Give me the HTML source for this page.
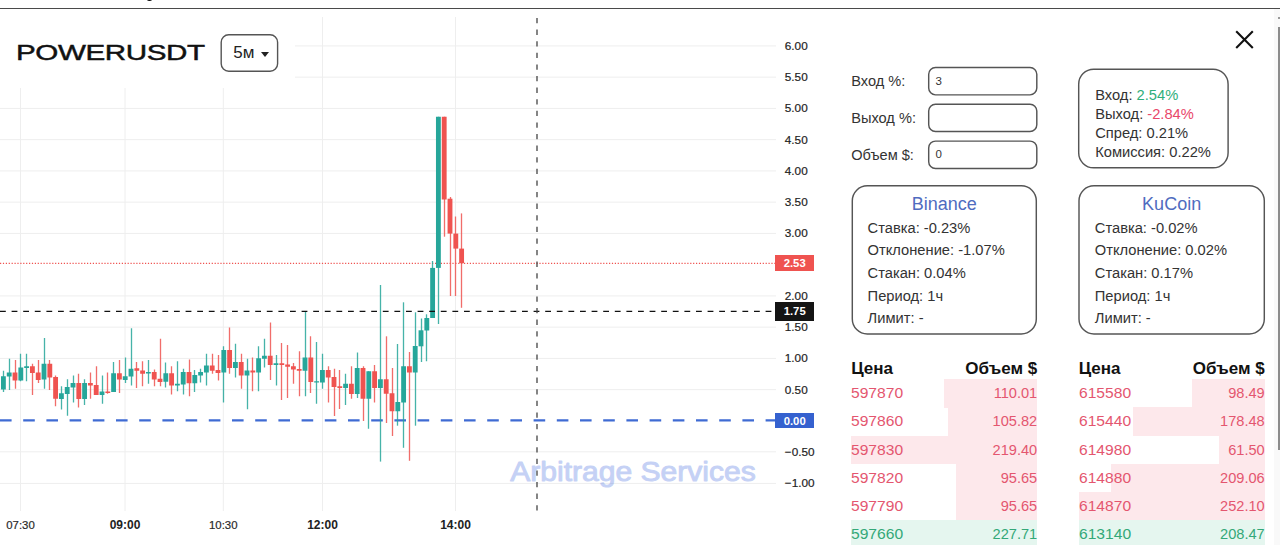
<!DOCTYPE html>
<html><head><meta charset="utf-8">
<style>
html,body{margin:0;padding:0;}
body{width:1280px;height:545px;overflow:hidden;background:#fff;position:relative;font-family:"Liberation Sans",sans-serif;color:#333;}
.abs{position:absolute;}
#topline{position:absolute;left:0;top:7.5px;width:1280px;height:1.3px;background:#4a4a4a;}
#chart{position:absolute;left:0;top:0;}
#hdr{position:absolute;left:0;top:17px;width:295px;height:71px;background:#fff;}
#sym{position:absolute;left:16.2px;top:38.4px;font-size:22px;line-height:30px;color:#111;white-space:nowrap;transform-origin:0 50%;transform:scaleX(1.345);letter-spacing:-0.3px;-webkit-text-stroke:0.45px #111;}
#tf{position:absolute;left:220px;top:33px;width:60px;height:40px;}
#tf svg{position:absolute;left:0;top:0;}
#tf span{position:absolute;left:13.3px;top:10.2px;font-size:17px;line-height:20px;color:#222;}
#tf i{position:absolute;left:41.3px;top:18.7px;width:0;height:0;border-left:4.5px solid transparent;border-right:4.5px solid transparent;border-top:5px solid #222;}
.pl{position:absolute;left:784.8px;font-size:11.75px;line-height:14px;color:#1e1e1e;white-space:nowrap;-webkit-text-stroke:0.2px #1e1e1e;}
.tl{position:absolute;top:518px;width:60px;text-align:center;font-size:11.4px;line-height:14px;color:#2a2a2a;-webkit-text-stroke:0.2px #2a2a2a;}
.tl.b{font-weight:bold;color:#222;font-size:12px;-webkit-text-stroke:0;}
.tag{position:absolute;left:775.4px;width:38.6px;height:15.8px;color:#fff;font-size:11.3px;line-height:17.6px;font-weight:bold;text-align:center;}
.lbl{position:absolute;left:851.2px;font-size:14.6px;line-height:20px;color:#333;white-space:nowrap;}
.it{position:absolute;font-size:11.5px;line-height:13px;color:#333;}
.bx{position:absolute;}
.bx div{position:absolute;white-space:nowrap;font-size:14.7px;line-height:20px;color:#333;}
.bx .ttl{left:0;right:0;text-align:center;font-size:18px;color:#4f6cc0;}
.gr{color:#2fae7b;} .rd{color:#e8476a;}
.th{position:absolute;display:flex;justify-content:space-between;font-weight:bold;font-size:17px;line-height:22px;color:#111;white-space:nowrap;}
.tr{position:absolute;display:flex;justify-content:space-between;font-size:14.6px;line-height:28.6px;white-space:nowrap;}
.tr .p{display:inline-block;transform:scaleX(1.07);transform-origin:0 50%;}
.tr.r{color:#e4566f;} .tr.g{color:#33a878;}
.bar{position:absolute;height:28.3px;}
#close{position:absolute;left:1234px;top:29px;}
#sbt{position:absolute;left:1273.5px;top:9px;width:6.5px;height:536px;background:#f9f9f9;}
#sbh{position:absolute;left:1278px;top:27px;width:2px;height:423px;background:#8c8c8c;}
</style></head><body>
<svg id="chart" width="822" height="545" viewBox="0 0 822 545">
<line x1="0" y1="45.90" x2="776" y2="45.90" stroke="#eeeeee" stroke-width="1"/>
<line x1="0" y1="77.15" x2="776" y2="77.15" stroke="#eeeeee" stroke-width="1"/>
<line x1="0" y1="108.40" x2="776" y2="108.40" stroke="#eeeeee" stroke-width="1"/>
<line x1="0" y1="139.65" x2="776" y2="139.65" stroke="#eeeeee" stroke-width="1"/>
<line x1="0" y1="170.90" x2="776" y2="170.90" stroke="#eeeeee" stroke-width="1"/>
<line x1="0" y1="202.15" x2="776" y2="202.15" stroke="#eeeeee" stroke-width="1"/>
<line x1="0" y1="233.40" x2="776" y2="233.40" stroke="#eeeeee" stroke-width="1"/>
<line x1="0" y1="295.90" x2="776" y2="295.90" stroke="#eeeeee" stroke-width="1"/>
<line x1="0" y1="327.15" x2="776" y2="327.15" stroke="#eeeeee" stroke-width="1"/>
<line x1="0" y1="358.40" x2="776" y2="358.40" stroke="#eeeeee" stroke-width="1"/>
<line x1="0" y1="389.65" x2="776" y2="389.65" stroke="#eeeeee" stroke-width="1"/>
<line x1="0" y1="451.80" x2="776" y2="451.80" stroke="#eeeeee" stroke-width="1"/>
<line x1="0" y1="483.40" x2="776" y2="483.40" stroke="#eeeeee" stroke-width="1"/>
<line x1="20.5" y1="17" x2="20.5" y2="511" stroke="#eeeeee" stroke-width="1"/>
<line x1="125" y1="17" x2="125" y2="511" stroke="#eeeeee" stroke-width="1"/>
<line x1="223.3" y1="17" x2="223.3" y2="511" stroke="#eeeeee" stroke-width="1"/>
<line x1="322.5" y1="17" x2="322.5" y2="511" stroke="#eeeeee" stroke-width="1"/>
<line x1="455.5" y1="17" x2="455.5" y2="511" stroke="#eeeeee" stroke-width="1"/>
<text x="510.3" y="480.6" font-family="Liberation Sans, sans-serif" font-size="27" fill="rgb(65,105,225)" stroke="rgb(65,105,225)" stroke-width="0.95" stroke-linejoin="round" opacity="0.3" textLength="245.5" lengthAdjust="spacingAndGlyphs">Arbitrage Services</text>
<line x1="0" y1="420.45" x2="776" y2="420.45" stroke="#3f6bd3" stroke-width="2.2" stroke-dasharray="11.6 11.6"/>
<line x1="0" y1="263.3" x2="776" y2="263.3" stroke="#ef5350" stroke-width="1.25" stroke-dasharray="1.2 1.7"/>
<line x1="3.5" y1="370.75" x2="3.5" y2="392" stroke="#26a69a" stroke-width="1.3" stroke-opacity="0.85"/>
<rect x="0.98" y="376.25" width="4.85" height="13.25" fill="#26a69a"/>
<line x1="9.5" y1="358.75" x2="9.5" y2="390" stroke="#26a69a" stroke-width="1.3" stroke-opacity="0.85"/>
<rect x="6.78" y="372.5" width="4.85" height="4.00" fill="#26a69a"/>
<line x1="15.5" y1="360" x2="15.5" y2="388.75" stroke="#ef5350" stroke-width="1.3" stroke-opacity="0.85"/>
<rect x="12.57" y="372.5" width="4.85" height="8.00" fill="#ef5350"/>
<line x1="20.5" y1="353.75" x2="20.5" y2="381.25" stroke="#26a69a" stroke-width="1.3" stroke-opacity="0.85"/>
<rect x="18.38" y="367.5" width="4.85" height="13.00" fill="#26a69a"/>
<line x1="26.5" y1="353.75" x2="26.5" y2="381.25" stroke="#26a69a" stroke-width="1.3" stroke-opacity="0.85"/>
<rect x="24.18" y="366.25" width="4.85" height="1.75" fill="#26a69a"/>
<line x1="32.5" y1="363.75" x2="32.5" y2="395" stroke="#ef5350" stroke-width="1.3" stroke-opacity="0.85"/>
<rect x="29.97" y="366.25" width="4.85" height="6.75" fill="#ef5350"/>
<line x1="38.5" y1="360" x2="38.5" y2="383" stroke="#ef5350" stroke-width="1.3" stroke-opacity="0.85"/>
<rect x="35.78" y="372.5" width="4.85" height="7.50" fill="#ef5350"/>
<line x1="44.5" y1="338" x2="44.5" y2="388.75" stroke="#26a69a" stroke-width="1.3" stroke-opacity="0.85"/>
<rect x="41.58" y="363.75" width="4.85" height="15.75" fill="#26a69a"/>
<line x1="49.5" y1="360" x2="49.5" y2="390" stroke="#ef5350" stroke-width="1.3" stroke-opacity="0.85"/>
<rect x="47.38" y="363.75" width="4.85" height="13.75" fill="#ef5350"/>
<line x1="55.5" y1="375.5" x2="55.5" y2="406.25" stroke="#ef5350" stroke-width="1.3" stroke-opacity="0.85"/>
<rect x="53.17" y="377" width="4.85" height="21.75" fill="#ef5350"/>
<line x1="61.5" y1="386.25" x2="61.5" y2="409.5" stroke="#26a69a" stroke-width="1.3" stroke-opacity="0.85"/>
<rect x="58.98" y="393.25" width="4.85" height="5.75" fill="#26a69a"/>
<line x1="67.5" y1="379.25" x2="67.5" y2="415.75" stroke="#26a69a" stroke-width="1.3" stroke-opacity="0.85"/>
<rect x="64.78" y="387" width="4.85" height="7.00" fill="#26a69a"/>
<line x1="73.5" y1="375.5" x2="73.5" y2="402.5" stroke="#26a69a" stroke-width="1.3" stroke-opacity="0.85"/>
<rect x="70.58" y="383" width="4.85" height="4.50" fill="#26a69a"/>
<line x1="78.5" y1="373.75" x2="78.5" y2="407.5" stroke="#ef5350" stroke-width="1.3" stroke-opacity="0.85"/>
<rect x="76.38" y="383" width="4.85" height="16.00" fill="#ef5350"/>
<line x1="84.5" y1="379.25" x2="84.5" y2="405" stroke="#26a69a" stroke-width="1.3" stroke-opacity="0.85"/>
<rect x="82.17" y="383" width="4.85" height="16.00" fill="#26a69a"/>
<line x1="90.5" y1="372.5" x2="90.5" y2="398.75" stroke="#ef5350" stroke-width="1.3" stroke-opacity="0.85"/>
<rect x="87.97" y="383" width="4.85" height="2.50" fill="#ef5350"/>
<line x1="96.5" y1="366.25" x2="96.5" y2="395" stroke="#ef5350" stroke-width="1.3" stroke-opacity="0.85"/>
<rect x="93.77" y="385" width="4.85" height="10.00" fill="#ef5350"/>
<line x1="102.5" y1="375.5" x2="102.5" y2="403.75" stroke="#26a69a" stroke-width="1.3" stroke-opacity="0.85"/>
<rect x="99.58" y="391.5" width="4.85" height="3.50" fill="#26a69a"/>
<line x1="107.5" y1="372.5" x2="107.5" y2="393.75" stroke="#ef5350" stroke-width="1.3" stroke-opacity="0.85"/>
<rect x="105.38" y="391.5" width="4.85" height="1.50" fill="#ef5350"/>
<line x1="113.5" y1="362" x2="113.5" y2="392" stroke="#26a69a" stroke-width="1.3" stroke-opacity="0.85"/>
<rect x="111.17" y="373.25" width="4.85" height="18.75" fill="#26a69a"/>
<line x1="119.5" y1="360" x2="119.5" y2="393" stroke="#ef5350" stroke-width="1.3" stroke-opacity="0.85"/>
<rect x="116.97" y="373.25" width="4.85" height="6.25" fill="#ef5350"/>
<line x1="125.5" y1="357.5" x2="125.5" y2="383" stroke="#26a69a" stroke-width="1.3" stroke-opacity="0.85"/>
<rect x="122.77" y="376.25" width="4.85" height="3.75" fill="#26a69a"/>
<line x1="131.5" y1="328.25" x2="131.5" y2="385.5" stroke="#26a69a" stroke-width="1.3" stroke-opacity="0.85"/>
<rect x="128.57" y="368.75" width="4.85" height="7.75" fill="#26a69a"/>
<line x1="136.5" y1="362" x2="136.5" y2="388" stroke="#ef5350" stroke-width="1.3" stroke-opacity="0.85"/>
<rect x="134.38" y="368.25" width="4.85" height="2.50" fill="#ef5350"/>
<line x1="142.5" y1="361.25" x2="142.5" y2="386.25" stroke="#ef5350" stroke-width="1.3" stroke-opacity="0.85"/>
<rect x="140.17" y="370.5" width="4.85" height="3.25" fill="#ef5350"/>
<line x1="148.5" y1="360" x2="148.5" y2="383.75" stroke="#26a69a" stroke-width="1.3" stroke-opacity="0.85"/>
<rect x="145.97" y="372" width="4.85" height="1.50" fill="#26a69a"/>
<line x1="154.5" y1="369.5" x2="154.5" y2="386.25" stroke="#ef5350" stroke-width="1.3" stroke-opacity="0.85"/>
<rect x="151.78" y="372" width="4.85" height="7.50" fill="#ef5350"/>
<line x1="160.5" y1="338.75" x2="160.5" y2="386.25" stroke="#ef5350" stroke-width="1.3" stroke-opacity="0.85"/>
<rect x="157.57" y="378.75" width="4.85" height="3.25" fill="#ef5350"/>
<line x1="165.5" y1="362.5" x2="165.5" y2="387.5" stroke="#26a69a" stroke-width="1.3" stroke-opacity="0.85"/>
<rect x="163.38" y="373.25" width="4.85" height="8.50" fill="#26a69a"/>
<line x1="171.5" y1="366.25" x2="171.5" y2="394.5" stroke="#ef5350" stroke-width="1.3" stroke-opacity="0.85"/>
<rect x="169.17" y="373.25" width="4.85" height="12.25" fill="#ef5350"/>
<line x1="177.5" y1="361.25" x2="177.5" y2="391.25" stroke="#26a69a" stroke-width="1.3" stroke-opacity="0.85"/>
<rect x="174.97" y="383.75" width="4.85" height="1.75" fill="#26a69a"/>
<line x1="183.5" y1="368.75" x2="183.5" y2="394.5" stroke="#26a69a" stroke-width="1.3" stroke-opacity="0.85"/>
<rect x="180.78" y="372" width="4.85" height="12.50" fill="#26a69a"/>
<line x1="189.5" y1="359.5" x2="189.5" y2="396.25" stroke="#ef5350" stroke-width="1.3" stroke-opacity="0.85"/>
<rect x="186.57" y="372" width="4.85" height="11.25" fill="#ef5350"/>
<line x1="194.5" y1="370" x2="194.5" y2="392" stroke="#26a69a" stroke-width="1.3" stroke-opacity="0.85"/>
<rect x="192.38" y="375" width="4.85" height="8.25" fill="#26a69a"/>
<line x1="200.5" y1="368.75" x2="200.5" y2="382.5" stroke="#26a69a" stroke-width="1.3" stroke-opacity="0.85"/>
<rect x="198.17" y="372" width="4.85" height="3.50" fill="#26a69a"/>
<line x1="206.5" y1="353.75" x2="206.5" y2="385.5" stroke="#26a69a" stroke-width="1.3" stroke-opacity="0.85"/>
<rect x="203.97" y="365.5" width="4.85" height="7.00" fill="#26a69a"/>
<line x1="212.5" y1="353.75" x2="212.5" y2="373.75" stroke="#ef5350" stroke-width="1.3" stroke-opacity="0.85"/>
<rect x="209.78" y="365.5" width="4.85" height="5.25" fill="#ef5350"/>
<line x1="218.5" y1="355" x2="218.5" y2="380.5" stroke="#ef5350" stroke-width="1.3" stroke-opacity="0.85"/>
<rect x="215.57" y="370" width="4.85" height="3.00" fill="#ef5350"/>
<line x1="223.5" y1="346.25" x2="223.5" y2="402.5" stroke="#26a69a" stroke-width="1.3" stroke-opacity="0.85"/>
<rect x="221.38" y="350" width="4.85" height="22.50" fill="#26a69a"/>
<line x1="229.5" y1="327.5" x2="229.5" y2="373.75" stroke="#ef5350" stroke-width="1.3" stroke-opacity="0.85"/>
<rect x="227.17" y="350" width="4.85" height="18.00" fill="#ef5350"/>
<line x1="235.5" y1="343.75" x2="235.5" y2="377.5" stroke="#26a69a" stroke-width="1.3" stroke-opacity="0.85"/>
<rect x="232.97" y="362" width="4.85" height="6.00" fill="#26a69a"/>
<line x1="241.5" y1="353.75" x2="241.5" y2="388.75" stroke="#ef5350" stroke-width="1.3" stroke-opacity="0.85"/>
<rect x="238.78" y="362" width="4.85" height="13.50" fill="#ef5350"/>
<line x1="247.5" y1="358.75" x2="247.5" y2="409.25" stroke="#26a69a" stroke-width="1.3" stroke-opacity="0.85"/>
<rect x="244.57" y="370.5" width="4.85" height="5.00" fill="#26a69a"/>
<line x1="252.5" y1="357.5" x2="252.5" y2="391.25" stroke="#ef5350" stroke-width="1.3" stroke-opacity="0.85"/>
<rect x="250.38" y="370.5" width="4.85" height="2.00" fill="#ef5350"/>
<line x1="258.5" y1="346.25" x2="258.5" y2="391.25" stroke="#26a69a" stroke-width="1.3" stroke-opacity="0.85"/>
<rect x="256.17" y="358.25" width="4.85" height="14.25" fill="#26a69a"/>
<line x1="264.5" y1="338.75" x2="264.5" y2="367.5" stroke="#26a69a" stroke-width="1.3" stroke-opacity="0.85"/>
<rect x="261.97" y="355.75" width="4.85" height="3.00" fill="#26a69a"/>
<line x1="270.5" y1="322.5" x2="270.5" y2="380" stroke="#ef5350" stroke-width="1.3" stroke-opacity="0.85"/>
<rect x="267.77" y="355.75" width="4.85" height="9.25" fill="#ef5350"/>
<line x1="276.5" y1="355" x2="276.5" y2="385.5" stroke="#26a69a" stroke-width="1.3" stroke-opacity="0.85"/>
<rect x="273.57" y="363.25" width="4.85" height="1.75" fill="#26a69a"/>
<line x1="281.5" y1="343" x2="281.5" y2="400" stroke="#ef5350" stroke-width="1.3" stroke-opacity="0.85"/>
<rect x="279.38" y="363.25" width="4.85" height="1.75" fill="#ef5350"/>
<line x1="287.5" y1="345" x2="287.5" y2="398" stroke="#ef5350" stroke-width="1.3" stroke-opacity="0.85"/>
<rect x="285.18" y="364.5" width="4.85" height="2.25" fill="#ef5350"/>
<line x1="293.5" y1="363" x2="293.5" y2="383.75" stroke="#ef5350" stroke-width="1.3" stroke-opacity="0.85"/>
<rect x="290.97" y="366.25" width="4.85" height="3.25" fill="#ef5350"/>
<line x1="299.5" y1="351.25" x2="299.5" y2="396.25" stroke="#ef5350" stroke-width="1.3" stroke-opacity="0.85"/>
<rect x="296.77" y="369" width="4.85" height="1.75" fill="#ef5350"/>
<line x1="305.5" y1="311.4" x2="305.5" y2="396.25" stroke="#26a69a" stroke-width="1.3" stroke-opacity="0.85"/>
<rect x="302.57" y="357.5" width="4.85" height="13.25" fill="#26a69a"/>
<line x1="310.5" y1="336.25" x2="310.5" y2="393" stroke="#ef5350" stroke-width="1.3" stroke-opacity="0.85"/>
<rect x="308.38" y="357.5" width="4.85" height="24.50" fill="#ef5350"/>
<line x1="316.5" y1="342" x2="316.5" y2="403.75" stroke="#26a69a" stroke-width="1.3" stroke-opacity="0.85"/>
<rect x="314.18" y="381.25" width="4.85" height="1.25" fill="#26a69a"/>
<line x1="322.5" y1="353.75" x2="322.5" y2="388.75" stroke="#26a69a" stroke-width="1.3" stroke-opacity="0.85"/>
<rect x="319.97" y="370" width="4.85" height="12.50" fill="#26a69a"/>
<line x1="328.5" y1="366.25" x2="328.5" y2="402.5" stroke="#ef5350" stroke-width="1.3" stroke-opacity="0.85"/>
<rect x="325.77" y="370" width="4.85" height="7.50" fill="#ef5350"/>
<line x1="334.5" y1="368.75" x2="334.5" y2="416" stroke="#ef5350" stroke-width="1.3" stroke-opacity="0.85"/>
<rect x="331.57" y="377" width="4.85" height="10.00" fill="#ef5350"/>
<line x1="339.5" y1="370" x2="339.5" y2="409" stroke="#ef5350" stroke-width="1.3" stroke-opacity="0.85"/>
<rect x="337.38" y="386.25" width="4.85" height="1.75" fill="#ef5350"/>
<line x1="345.5" y1="373.75" x2="345.5" y2="405" stroke="#26a69a" stroke-width="1.3" stroke-opacity="0.85"/>
<rect x="343.18" y="383.75" width="4.85" height="4.25" fill="#26a69a"/>
<line x1="351.5" y1="366.25" x2="351.5" y2="398.75" stroke="#ef5350" stroke-width="1.3" stroke-opacity="0.85"/>
<rect x="348.97" y="383.75" width="4.85" height="10.25" fill="#ef5350"/>
<line x1="357.5" y1="352.5" x2="357.5" y2="398" stroke="#26a69a" stroke-width="1.3" stroke-opacity="0.85"/>
<rect x="354.77" y="368" width="4.85" height="26.00" fill="#26a69a"/>
<line x1="363.5" y1="366.25" x2="363.5" y2="421" stroke="#ef5350" stroke-width="1.3" stroke-opacity="0.85"/>
<rect x="360.57" y="368" width="4.85" height="30.75" fill="#ef5350"/>
<line x1="368.5" y1="371.25" x2="368.5" y2="428.75" stroke="#26a69a" stroke-width="1.3" stroke-opacity="0.85"/>
<rect x="366.38" y="371.25" width="4.85" height="27.50" fill="#26a69a"/>
<line x1="374.5" y1="365" x2="374.5" y2="402.5" stroke="#ef5350" stroke-width="1.3" stroke-opacity="0.85"/>
<rect x="372.18" y="371.25" width="4.85" height="16.75" fill="#ef5350"/>
<line x1="380.5" y1="285" x2="380.5" y2="461.6" stroke="#26a69a" stroke-width="1.3" stroke-opacity="0.85"/>
<rect x="377.97" y="379.25" width="4.85" height="8.75" fill="#26a69a"/>
<line x1="386.5" y1="336.3" x2="386.5" y2="423" stroke="#ef5350" stroke-width="1.3" stroke-opacity="0.85"/>
<rect x="383.77" y="379.25" width="4.85" height="14.50" fill="#ef5350"/>
<line x1="392.5" y1="368" x2="392.5" y2="436" stroke="#ef5350" stroke-width="1.3" stroke-opacity="0.85"/>
<rect x="389.57" y="393.25" width="4.85" height="18.00" fill="#ef5350"/>
<line x1="397.5" y1="344" x2="397.5" y2="425.7" stroke="#26a69a" stroke-width="1.3" stroke-opacity="0.85"/>
<rect x="395.38" y="402" width="4.85" height="9.25" fill="#26a69a"/>
<line x1="403.5" y1="302.3" x2="403.5" y2="447.8" stroke="#26a69a" stroke-width="1.3" stroke-opacity="0.85"/>
<rect x="401.18" y="366.25" width="4.85" height="36.25" fill="#26a69a"/>
<line x1="409.5" y1="352" x2="409.5" y2="460.8" stroke="#ef5350" stroke-width="1.3" stroke-opacity="0.85"/>
<rect x="406.97" y="366.25" width="4.85" height="6.25" fill="#ef5350"/>
<line x1="415.5" y1="312.3" x2="415.5" y2="425.7" stroke="#26a69a" stroke-width="1.3" stroke-opacity="0.85"/>
<rect x="412.77" y="346" width="4.85" height="26.50" fill="#26a69a"/>
<line x1="421.5" y1="318.5" x2="421.5" y2="362" stroke="#26a69a" stroke-width="1.3" stroke-opacity="0.85"/>
<rect x="418.57" y="330.3" width="4.85" height="16.00" fill="#26a69a"/>
<line x1="426.5" y1="314.3" x2="426.5" y2="361.25" stroke="#26a69a" stroke-width="1.3" stroke-opacity="0.85"/>
<rect x="424.38" y="318" width="4.85" height="12.50" fill="#26a69a"/>
<line x1="432.5" y1="261" x2="432.5" y2="318" stroke="#26a69a" stroke-width="1.3" stroke-opacity="0.85"/>
<rect x="430.18" y="267.9" width="4.85" height="50.10" fill="#26a69a"/>
<line x1="438.5" y1="116.75" x2="438.5" y2="324" stroke="#26a69a" stroke-width="1.3" stroke-opacity="0.85"/>
<rect x="435.97" y="116.75" width="4.85" height="151.15" fill="#26a69a"/>
<line x1="444.5" y1="116.75" x2="444.5" y2="236.7" stroke="#ef5350" stroke-width="1.3" stroke-opacity="0.85"/>
<rect x="441.77" y="116.75" width="4.85" height="82.75" fill="#ef5350"/>
<line x1="450.5" y1="197" x2="450.5" y2="296" stroke="#ef5350" stroke-width="1.3" stroke-opacity="0.85"/>
<rect x="447.57" y="198.7" width="4.85" height="34.90" fill="#ef5350"/>
<line x1="455.5" y1="216.5" x2="455.5" y2="296" stroke="#ef5350" stroke-width="1.3" stroke-opacity="0.85"/>
<rect x="453.38" y="233.6" width="4.85" height="15.00" fill="#ef5350"/>
<line x1="461.5" y1="213.4" x2="461.5" y2="307.8" stroke="#ef5350" stroke-width="1.3" stroke-opacity="0.85"/>
<rect x="459.18" y="248.6" width="4.85" height="14.60" fill="#ef5350"/>
<line x1="0" y1="311.3" x2="776" y2="311.3" stroke="#111" stroke-width="1.35" stroke-dasharray="5.8 5.8"/>
<line x1="537" y1="18" x2="537" y2="511" stroke="#444" stroke-width="1.3" stroke-dasharray="5.3 6.3"/>
</svg>
<div class="pl" style="top:38.9px">6.00</div>
<div class="pl" style="top:70.1px">5.50</div>
<div class="pl" style="top:101.4px">5.00</div>
<div class="pl" style="top:132.6px">4.50</div>
<div class="pl" style="top:163.9px">4.00</div>
<div class="pl" style="top:195.1px">3.50</div>
<div class="pl" style="top:226.4px">3.00</div>
<div class="pl" style="top:288.9px">2.00</div>
<div class="pl" style="top:320.1px">1.50</div>
<div class="pl" style="top:351.4px">1.00</div>
<div class="pl" style="top:382.6px">0.50</div>
<div class="pl" style="top:444.8px">−0.50</div>
<div class="pl" style="top:476.4px">−1.00</div>
<div class="tl" style="left:-9.5px">07:30</div>
<div class="tl b" style="left:95px">09:00</div>
<div class="tl" style="left:193.3px">10:30</div>
<div class="tl b" style="left:292.5px">12:00</div>
<div class="tl b" style="left:425.5px">14:00</div>
<div class="tag" style="top:255.3px;background:#ef5350">2.53</div>
<div class="tag" style="top:302.3px;height:18.7px;line-height:19.8px;background:#141414">1.75</div>
<div class="tag" style="top:412.7px;background:#3561cf">0.00</div>
<div id="hdr"></div>
<div id="sym">POWERUSDT</div>
<div id="tf"><svg width="60" height="40" viewBox="0 0 60 40"><rect x="1.2" y="1.7" width="56.4" height="36.6" rx="7.5" fill="#fff" stroke="#555" stroke-width="1.4"/></svg><span>5м</span><i></i></div>
<div id="topline"></div>

<div class="lbl" style="top:71px">Вход %:</div>
<div class="lbl" style="top:107.8px">Выход %:</div>
<div class="lbl" style="top:144.7px">Объем $:</div>
<svg class="abs" style="left:840px;top:56px" width="440" height="290" viewBox="840 56 440 290">
<g fill="#fff" stroke="#555" stroke-width="1.45">
<rect x="928.7" y="67.45" width="108.1" height="27.4" rx="6.8"/>
<rect x="928.7" y="104.2" width="108.1" height="27.4" rx="6.8"/>
<rect x="928.7" y="141.1" width="108.1" height="27.4" rx="6.8"/>
<rect x="1078.7" y="69.2" width="149.4" height="98.6" rx="15"/>
<rect x="852.3" y="185.8" width="184" height="148.2" rx="15"/>
<rect x="1079" y="185.8" width="185.3" height="148.2" rx="15"/>
</g></svg>
<div class="it" style="left:935.5px;top:74.5px">3</div>
<div class="it" style="left:935.5px;top:148.2px">0</div>

<div class="bx" style="left:1078px;top:68.5px">
<div style="left:17.2px;top:16.1px">Вход: <span class="gr">2.54%</span></div>
<div style="left:17.2px;top:35.3px">Выход: <span class="rd">-2.84%</span></div>
<div style="left:17.2px;top:54.6px">Спред: 0.21%</div>
<div style="left:17.2px;top:73.8px">Комиссия: 0.22%</div>
</div>

<div class="bx" style="left:851.6px;top:185px;width:185.4px">
<div class="ttl" style="top:9px">Binance</div>
<div style="left:16px;top:33px">Ставка: -0.23%</div>
<div style="left:16px;top:55.2px">Отклонение: -1.07%</div>
<div style="left:16px;top:78px">Стакан: 0.04%</div>
<div style="left:16px;top:100.7px">Период: 1ч</div>
<div style="left:16px;top:123.3px">Лимит: -</div>
</div>
<div class="bx" style="left:1078.3px;top:185px;width:186.7px">
<div class="ttl" style="top:9px">KuCoin</div>
<div style="left:16.5px;top:33px">Ставка: -0.02%</div>
<div style="left:16.5px;top:55.2px">Отклонение: 0.02%</div>
<div style="left:16.5px;top:78px">Стакан: 0.17%</div>
<div style="left:16.5px;top:100.7px">Период: 1ч</div>
<div style="left:16.5px;top:123.3px">Лимит: -</div>
</div>

<div class="th" style="left:851.2px;top:357.5px;width:186px"><span>Цена</span><span>Объем $</span></div>
<div class="bar" style="left:943.9px;top:379.25px;width:93.3px;background:#fde8eb"></div>
<div class="tr r" style="left:851.2px;top:379.25px;width:186px"><span class="p">597870</span><span>110.01</span></div>
<div class="bar" style="left:947.5px;top:407.42px;width:89.7px;background:#fde8eb"></div>
<div class="tr r" style="left:851.2px;top:407.42px;width:186px"><span class="p">597860</span><span>105.82</span></div>
<div class="bar" style="left:851.2px;top:435.59px;width:186.0px;background:#fde8eb"></div>
<div class="tr r" style="left:851.2px;top:435.59px;width:186px"><span class="p">597830</span><span>219.40</span></div>
<div class="bar" style="left:956.1px;top:463.76px;width:81.1px;background:#fde8eb"></div>
<div class="tr r" style="left:851.2px;top:463.76px;width:186px"><span class="p">597820</span><span>95.65</span></div>
<div class="bar" style="left:956.1px;top:491.93px;width:81.1px;background:#fde8eb"></div>
<div class="tr r" style="left:851.2px;top:491.93px;width:186px"><span class="p">597790</span><span>95.65</span></div>
<div class="bar" style="left:851.2px;top:520.10px;width:186.0px;background:#e5f6ef"></div>
<div class="tr g" style="left:851.2px;top:520.10px;width:186px"><span class="p">597660</span><span>227.71</span></div>
<div class="th" style="left:1078.7px;top:357.5px;width:186px"><span>Цена</span><span>Объем $</span></div>
<div class="bar" style="left:1192.0px;top:379.25px;width:72.7px;background:#fde8eb"></div>
<div class="tr r" style="left:1078.7px;top:379.25px;width:186px"><span class="p">615580</span><span>98.49</span></div>
<div class="bar" style="left:1133.0px;top:407.42px;width:131.7px;background:#fde8eb"></div>
<div class="tr r" style="left:1078.7px;top:407.42px;width:186px"><span class="p">615440</span><span>178.48</span></div>
<div class="bar" style="left:1219.3px;top:435.59px;width:45.4px;background:#fde8eb"></div>
<div class="tr r" style="left:1078.7px;top:435.59px;width:186px"><span class="p">614980</span><span>61.50</span></div>
<div class="bar" style="left:1110.5px;top:463.76px;width:154.2px;background:#fde8eb"></div>
<div class="tr r" style="left:1078.7px;top:463.76px;width:186px"><span class="p">614880</span><span>209.06</span></div>
<div class="bar" style="left:1078.7px;top:491.93px;width:186.0px;background:#fde8eb"></div>
<div class="tr r" style="left:1078.7px;top:491.93px;width:186px"><span class="p">614870</span><span>252.10</span></div>
<div class="bar" style="left:1078.7px;top:520.10px;width:186.0px;background:#e5f6ef"></div>
<div class="tr g" style="left:1078.7px;top:520.10px;width:186px"><span class="p">613140</span><span>208.47</span></div>

<svg id="close" width="22" height="22" viewBox="0 0 22 22"><path d="M2.2 2.3 L18.8 18.9 M18.8 2.3 L2.2 18.9" stroke="#111" stroke-width="2.1" fill="none"/></svg>
<div id="sbt"></div><div id="sbh"></div>
<div class="abs" style="left:1277.5px;top:16.5px;width:2.5px;height:2.5px;background:#9a9a9a"></div>
<div class="abs" style="left:147px;top:-2.2px;width:5px;height:3.2px;border-radius:50%;background:#111"></div>
</body></html>
